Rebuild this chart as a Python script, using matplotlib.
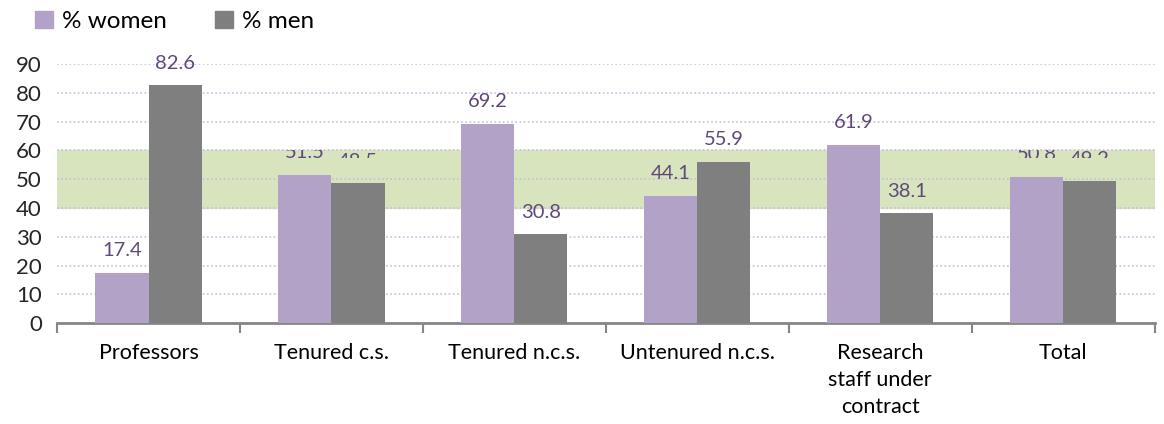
import matplotlib.pyplot as plt
from matplotlib.patches import Patch
from matplotlib.transforms import Bbox, TransformedBbox

plt.rcParams['font.family'] = ['Lato', 'DejaVu Sans']

categories = ["Professors", "Tenured c.s.", "Tenured n.c.s.", "Untenured n.c.s.",
              "Research\nstaff under\ncontract", "Total"]
women = [17.4, 51.5, 69.2, 44.1, 61.9, 50.8]
men = [82.6, 48.5, 30.8, 55.9, 38.1, 49.2]
band = (40, 60)
# labels that end up half hidden in the original picture
half_hidden = ["Tenured c.s.", "Total"]

c_women = "#B3A2C7"
c_men = "#7F7F7F"
c_label = "#5F497A"

fig = plt.figure(figsize=(11.64, 4.24), dpi=100)
ax = fig.add_axes([0.049, 0.238, 0.943, 0.611])

x = list(range(len(categories)))
w = 0.29
ax.axhspan(band[0], band[1], color="#D7E4BD", zorder=0)
ax.bar([i - w / 2 for i in x], women, width=w, color=c_women, zorder=3)
ax.bar([i + w / 2 for i in x], men, width=w, color=c_men, zorder=3)

for i, cat in enumerate(categories):
    for xx, v in ((i - w / 2, women[i]), (i + w / 2, men[i])):
        t = ax.annotate(f"{v:.1f}", (xx, v), xytext=(0, 16), textcoords="offset points",
                        ha="center", va="center", fontsize=14.5, color=c_label,
                        zorder=4, annotation_clip=False)
        if cat in half_hidden:
            t.set_clip_box(TransformedBbox(Bbox([[xx - 0.5, 57.4], [xx + 0.5, 60]]), ax.transData))
            t.set_clip_on(True)

ax.set_xlim(-0.5, len(categories) - 0.5)
ax.set_ylim(0, 90)
ax.set_yticks(range(0, 91, 10))
ax.yaxis.grid(True, linestyle=(0, (1, 1.5)), color="#C9BEDC", linewidth=1.2, zorder=1)
ax.set_axisbelow(True)
ax.tick_params(axis="y", length=0, labelsize=16, pad=11, colors="#262626")

ax.set_xticks([i + 0.5 for i in range(-1, len(categories))])
ax.set_xticklabels([])
ax.set_xticks(x, minor=True)
ax.set_xticklabels(categories, minor=True, fontsize=15.5, linespacing=1.45)
ax.tick_params(axis="x", which="major", length=7, width=1.5, color="#868686", direction="out")
ax.tick_params(axis="x", which="minor", length=0, pad=14)

for s in ["top", "right", "left"]:
    ax.spines[s].set_visible(False)
ax.spines["bottom"].set_color("#868686")
ax.spines["bottom"].set_linewidth(2)

handles = [Patch(color=c_women, label="% women"), Patch(color=c_men, label="% men")]
fig.legend(handles=handles, loc="upper left", bbox_to_anchor=(0.03, 0.975), ncol=2,
           frameon=False, fontsize=17.5, handlelength=0.75, handleheight=0.75,
           handletextpad=0.35, columnspacing=2.0, borderaxespad=0, borderpad=0)

fig.savefig("out.png", dpi=100)
